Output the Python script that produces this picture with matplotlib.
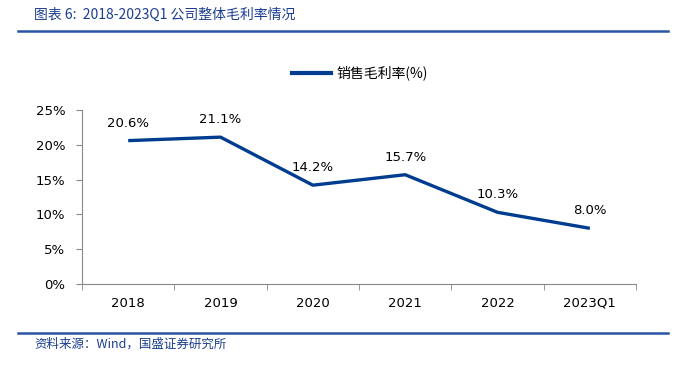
import matplotlib
matplotlib.use("Agg")
import matplotlib.pyplot as plt
from matplotlib.lines import Line2D

plt.rcParams['font.family'] = ['DejaVu Sans', 'Noto Sans CJK SC']

categories = ["2018", "2019", "2020", "2021", "2022", "2023Q1"]
gross_margin = [20.6, 21.1, 14.2, 15.7, 10.3, 8.0]
yticks = [0, 5, 10, 15, 20, 25]
series_name = "销售毛利率(%)"
title = "图表 6:  2018-2023Q1 公司整体毛利率情况"
source = "资料来源：Wind，国盛证券研究所"

line_color = "#003c8f"
text_blue = "#1c3d8f"

fig = plt.figure(figsize=(6.79, 3.71), dpi=100)
ax = fig.add_axes([0.1208, 0.2345, 0.8159, 0.469])

x = list(range(len(categories)))
ax.plot(x, gross_margin, color=line_color, lw=2.4, solid_capstyle='butt')
for xi, v in zip(x, gross_margin):
    ax.annotate(f"{v:.1f}%", (xi, v), xytext=(0, 8), textcoords='offset points',
                ha='center', va='bottom', fontsize=9.5, color='#000000')

ax.set_xlim(-0.5, len(categories) - 0.5)
ax.set_ylim(0, 25)
ax.set_yticks(yticks)
ax.set_yticklabels([f"{t}%" for t in yticks], fontsize=9.5)
ax.set_xticks(x)
ax.set_xticklabels(categories, fontsize=9.5)
ax.tick_params(axis='x', length=0, pad=9)
ax.set_xticks([i + 0.5 for i in range(-1, len(categories))], minor=True)
ax.tick_params(axis='x', which='minor', length=4, color='#888888', direction='out')
ax.tick_params(axis='y', length=4, color='#888888', pad=8)
for s in ['top', 'right']:
    ax.spines[s].set_visible(False)
for s in ['left', 'bottom']:
    ax.spines[s].set_color('#888888')
    ax.spines[s].set_linewidth(0.8)

handle = Line2D([0], [0], color=line_color, lw=3)
fig.legend([handle], [series_name], loc='center', bbox_to_anchor=(0.53, 1 - 73 / 371),
           frameon=False, handlelength=2.8, handletextpad=0.4,
           prop={'family': ['Noto Sans CJK SC', 'DejaVu Sans'], 'size': 10})

fig.text(34 / 679, 1 - 15 / 371, title, fontsize=10, color=text_blue, style='italic',
         va='center', ha='left', family=['Noto Sans CJK SC', 'DejaVu Sans'])
fig.add_artist(Line2D([18 / 679, 668 / 679], [1 - 31 / 371, 1 - 31 / 371],
                      color='#2a55a5', lw=1.8))
fig.add_artist(Line2D([18 / 679, 668 / 679], [1 - 333 / 371, 1 - 333 / 371],
                      color='#2a55a5', lw=1.8))
fig.text(34 / 679, 1 - 344 / 371, source, fontsize=9, color=text_blue, style='italic',
         va='center', ha='left', family=['Noto Sans CJK SC', 'DejaVu Sans'])

fig.savefig("out.png", dpi=100)
